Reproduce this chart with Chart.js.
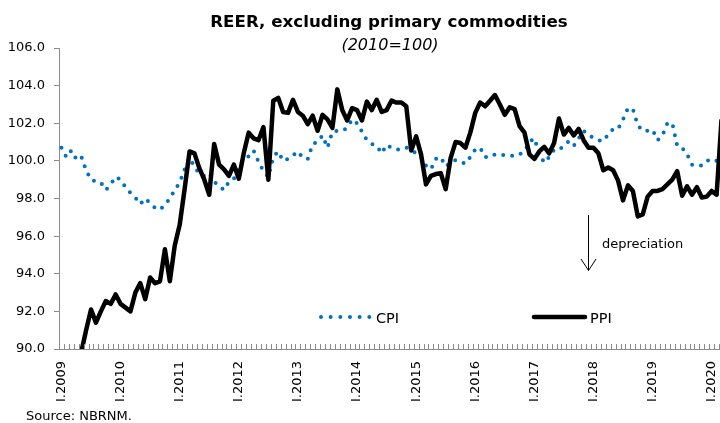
<!DOCTYPE html>
<html>
<head>
<meta charset="utf-8">
<script src="https://cdn.jsdelivr.net/npm/chart.js@4.4.1/dist/chart.umd.min.js"></script>
<style>
  html, body { margin: 0; padding: 0; background: #fff; overflow: hidden; }
  #wrap { width: 724px; height: 423px; }
</style>
</head>
<body>
<div id="wrap"><canvas id="reer" width="724" height="423"></canvas></div>
<script>
// months run from I.2009 to III.2020
const years = [2009, 2010, 2011, 2012, 2013, 2014, 2015, 2016, 2017, 2018, 2019, 2020];
const romanMonths = ['I', 'II', 'III', 'IV', 'V', 'VI', 'VII', 'VIII', 'IX', 'X', 'XI', 'XII'];
const monthsIn2020 = 3;

const cpi = [
  100.7, 100.2, 100.55, 100.1, 100.25, 99.5, 99.0, 98.9, 98.85, 98.45,
  98.75, 99.15, 99.0, 98.6, 98.3, 98.05, 97.7, 98.0, 97.75, 97.5,
  97.4, 97.65, 98.0, 98.45, 98.85, 99.55, 100.15, 99.7, 99.3, 99.2,
  99.35, 98.9, 98.65, 98.45, 98.9, 99.05, 99.8, 100.0, 100.25, 100.55,
  99.95, 99.45, 99.15, 100.2, 100.5, 100.0, 100.1, 100.3, 100.5, 100.15,
  100.1, 100.9, 101.0, 101.35, 100.7, 101.55, 101.6, 101.6, 101.75, 102.2,
  102.0, 101.55, 101.1, 100.9, 100.8, 100.4, 100.85, 100.7, 100.6, 100.6,
  100.7, 100.6, 100.4, 100.2, 99.75, 99.55, 100.1, 100.2, 99.7, 99.9,
  100.05, 99.95, 99.85, 100.2, 100.6, 100.7, 100.2, 100.2, 100.35, 100.35,
  100.3, 100.3, 100.25, 100.35, 100.5, 101.0, 101.2, 100.4, 99.9, 100.2,
  100.6, 100.6, 100.8, 101.05, 100.8, 101.2, 101.6, 101.4, 101.2, 101.1,
  101.05, 101.4, 101.7, 101.7, 102.2, 102.8, 102.75, 101.9, 101.6, 101.6,
  101.65, 101.1, 101.35, 102.0, 102.0, 100.8, 100.7, 100.35, 99.8, 99.75,
  99.75, 100.0, 100.1, 100.0, 100.1
];

const ppi = [
  86.0, 86.8, 87.6, 88.6, 89.8, 91.0, 92.1, 91.4, 92.0, 92.55,
  92.4, 92.9, 92.4, 92.2, 92.0, 93.0, 93.5, 92.65, 93.8, 93.5,
  93.6, 95.3, 93.6, 95.5, 96.6, 98.5, 100.5, 100.4, 99.6, 99.0,
  98.2, 100.9, 99.8, 99.55, 99.2, 99.8, 99.05, 100.4, 101.5, 101.2,
  101.1, 101.8, 99.0, 103.2, 103.35, 102.6, 102.55, 103.25, 102.6, 102.4,
  101.95, 102.4, 101.6, 102.45, 102.2, 101.75, 103.8, 102.7, 102.15, 102.8,
  102.7, 102.15, 103.15, 102.7, 103.25, 102.6, 102.7, 103.2, 103.1, 103.1,
  102.9, 100.55, 101.3, 100.35, 98.75, 99.2, 99.3, 99.35, 98.5, 100.15,
  101.0, 100.95, 100.7, 101.5, 102.55, 103.1, 102.9, 103.2, 103.5, 103.0,
  102.45, 102.85, 102.75, 101.85, 101.5, 100.35, 100.1, 100.5, 100.75, 100.4,
  100.95, 102.25, 101.4, 101.75, 101.35, 101.7, 101.1, 100.7, 100.7, 100.4,
  99.5, 99.65, 99.5, 98.95, 97.9, 98.7, 98.4, 97.05, 97.15, 98.1,
  98.4, 98.4, 98.5, 98.75, 99.0, 99.45, 98.15, 98.65, 98.2, 98.6,
  98.05, 98.1, 98.4, 98.2, 102.2
];

const yTicks = [90, 92, 94, 96, 98, 100, 102, 104, 106];

const categories = [];
years.forEach(y => {
  romanMonths.forEach((r, i) => {
    if (y < 2020 || i < monthsIn2020) categories.push(r + '.' + y);
  });
});

const FONT = '"DejaVu Sans", Verdana, sans-serif';
const CPI_BLUE = '#0070C0';
const AXIS_GREY = '#8c8c8c';

// small monthly tick marks standing up from the category axis
const monthTicks = {
  id: 'monthTicks',
  afterDraw(chart) {
    const xs = chart.scales.x;
    const ctx = chart.ctx;
    const step = xs.width / categories.length;
    ctx.save();
    ctx.strokeStyle = AXIS_GREY;
    ctx.lineWidth = 1;
    ctx.beginPath();
    for (let i = 0; i <= categories.length; i++) {
      const x = Math.round(xs.left + i * step) + 0.5;
      ctx.moveTo(x, xs.top - 5);
      ctx.lineTo(x, xs.top);
    }
    ctx.stroke();
    ctx.restore();
  }
};

// title, legend, arrow note and source line
const decorations = {
  id: 'decorations',
  afterDraw(chart) {
    const ctx = chart.ctx;
    const xs = chart.scales.x;
    ctx.save();
    ctx.fillStyle = '#000';
    ctx.textBaseline = 'alphabetic';

    ctx.textAlign = 'center';
    ctx.font = 'bold 16.7px ' + FONT;
    ctx.fillText('REER, excluding primary commodities', 389, 27);
    ctx.font = 'italic 16px ' + FONT;
    ctx.fillText('(2010=100)', 390, 49.5);

    ctx.textAlign = 'left';
    ctx.font = '13px ' + FONT;
    ctx.fillText('Source: NBRNM.', 26, 419.5);

    // legend
    ctx.save();
    ctx.strokeStyle = CPI_BLUE;
    ctx.lineWidth = 4;
    ctx.lineCap = 'round';
    ctx.setLineDash([0, 9.66]);
    ctx.beginPath();
    ctx.moveTo(321, 317);
    ctx.lineTo(370, 317);
    ctx.stroke();
    ctx.setLineDash([]);
    ctx.strokeStyle = '#000';
    ctx.lineWidth = 4.5;
    ctx.beginPath();
    ctx.moveTo(534, 317);
    ctx.lineTo(585, 317);
    ctx.stroke();
    ctx.restore();
    ctx.font = '14.5px ' + FONT;
    ctx.fillText('CPI', 376, 322.5);
    ctx.fillText('PPI', 590, 322.5);

    // depreciation arrow
    const ax = Math.round(xs.getPixelForValue(categories.indexOf('XII.2017'))) - 0.5;
    ctx.strokeStyle = '#000';
    ctx.lineWidth = 1;
    ctx.beginPath();
    ctx.moveTo(ax, 215);
    ctx.lineTo(ax, 270.5);
    ctx.moveTo(ax - 7.5, 259);
    ctx.lineTo(ax, 270.5);
    ctx.lineTo(ax + 7.5, 259);
    ctx.stroke();
    ctx.font = '13px ' + FONT;
    ctx.fillText('depreciation', 602, 248);
    ctx.restore();
  }
};

new Chart(document.getElementById('reer'), {
  type: 'line',
  data: {
    labels: categories,
    datasets: [
      {
        label: 'PPI',
        data: ppi,
        borderColor: '#000',
        borderWidth: 4.5,
        borderJoinStyle: 'round',
        pointRadius: 0,
        tension: 0,
        order: 0,
        clip: 0
      },
      {
        label: 'CPI',
        data: cpi,
        borderColor: CPI_BLUE,
        borderWidth: 4,
        borderCapStyle: 'round',
        borderDash: [0, 9],
        pointRadius: 0,
        tension: 0,
        order: 1,
        clip: 0
      }
    ]
  },
  options: {
    responsive: false,
    animation: false,
    layout: { padding: { top: 48, left: 0, right: 0, bottom: 0 } },
    plugins: {
      legend: { display: false },
      title: { display: false },
      tooltip: { enabled: false }
    },
    scales: {
      x: {
        type: 'category',
        offset: true,
        grid: {
          drawOnChartArea: false,
          drawTicks: false,
          offset: true,
          color: AXIS_GREY
        },
        border: { color: AXIS_GREY, width: 1 },
        ticks: {
          autoSkip: false,
          minRotation: 90,
          maxRotation: 90,
          padding: 12,
          color: '#000',
          font: { family: FONT, size: 13 },
          callback: function (v, i) {
            return i % 12 === 0 ? this.getLabelForValue(v) : '';
          }
        },
        afterFit: s => {
          s.height = 74;
          s.paddingLeft = 0;
          s.paddingRight = 0;
        }
      },
      y: {
        min: 90,
        max: 106,
        afterBuildTicks: s => { s.ticks = yTicks.map(v => ({ value: v })); },
        grid: {
          drawOnChartArea: false,
          tickLength: 5,
          color: AXIS_GREY
        },
        border: { color: AXIS_GREY, width: 1 },
        ticks: {
          padding: 9,
          color: '#000',
          font: { family: FONT, size: 13 },
          callback: v => v.toFixed(1)
        },
        afterFit: s => { s.width = 59; }
      }
    }
  },
  plugins: [monthTicks, decorations]
});
</script>
</body>
</html>
